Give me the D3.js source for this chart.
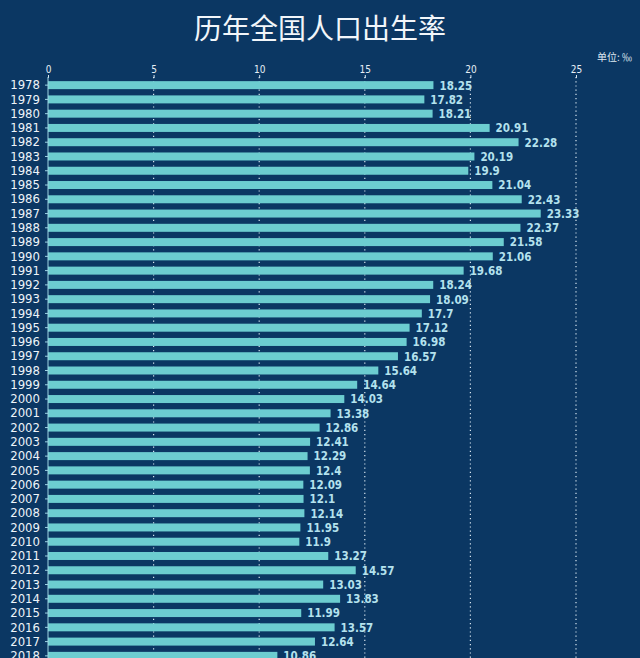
<!DOCTYPE html>
<html>
<head>
<meta charset="utf-8">
<script src="https://cdn.jsdelivr.net/npm/d3@7"></script>
<style>
  html, body { margin: 0; padding: 0; background: #0b3763; overflow: hidden; }
  svg { display: block; }
</style>
</head>
<body>
<svg id="chart"></svg>
<script>
// Data
const years = [1978, 1979, 1980, 1981, 1982, 1983, 1984, 1985, 1986, 1987,
  1988, 1989, 1990, 1991, 1992, 1993, 1994, 1995, 1996, 1997,
  1998, 1999, 2000, 2001, 2002, 2003, 2004, 2005, 2006, 2007,
  2008, 2009, 2010, 2011, 2012, 2013, 2014, 2015, 2016, 2017, 2018];
const birthRates = [18.25, 17.82, 18.21, 20.91, 22.28, 20.19, 19.9, 21.04, 22.43, 23.33,
  22.37, 21.58, 21.06, 19.68, 18.24, 18.09, 17.7, 17.12, 16.98, 16.57,
  15.64, 14.64, 14.03, 13.38, 12.86, 12.41, 12.29, 12.4, 12.09, 12.1,
  12.14, 11.95, 11.9, 13.27, 14.57, 13.03, 13.83, 11.99, 13.57, 12.64, 10.86];
const xTicks = [0, 5, 10, 15, 20, 25];
const title = "历年全国人口出生率";
const unitLabel = "单位: ‰";

const data = years.map((y, i) => ({ year: y, value: birthRates[i] }));

const width = 640, height = 658;
const numFont = "'DejaVu Sans Condensed', 'Liberation Sans Narrow', 'Noto Sans', sans-serif";
const cjkFont = "'Noto Sans CJK SC', sans-serif";

const svg = d3.select("#chart").attr("width", width).attr("height", height);

svg.append("rect").attr("width", width).attr("height", height).attr("fill", "#0b3763");

const x = d3.scaleLinear().domain([0, 25]).range([48, 576]);
const y = d3.scaleBand()
  .domain(years)
  .range([78, 663])
  .paddingInner(0.44)
  .paddingOuter(0.22);

// title
svg.append("text")
  .attr("x", 320).attr("y", 39)
  .attr("text-anchor", "middle")
  .attr("fill", "#f2f6fa")
  .style("font-family", cjkFont)
  .style("font-size", "28px")
  .text(title);

svg.append("text")
  .attr("x", 632).attr("y", 61)
  .attr("text-anchor", "end")
  .attr("fill", "#dfe9f2")
  .style("font-family", cjkFont)
  .style("font-size", "10px")
  .text(unitLabel);

// dotted grid
svg.append("g")
  .selectAll("line")
  .data(xTicks.filter(d => d > 0))
  .join("line")
  .attr("x1", d => x(d)).attr("x2", d => x(d))
  .attr("y1", 77).attr("y2", height)
  .attr("stroke", "#d6e4ee")
  .attr("stroke-width", 1.2)
  .attr("stroke-dasharray", "1.2,3");

// top axis
const xAxis = svg.append("g")
  .attr("transform", "translate(0,78)")
  .call(d3.axisTop(x).tickValues(xTicks).tickSize(3).tickPadding(2));
xAxis.select(".domain").remove();
xAxis.selectAll("line").attr("stroke", "#d6e4ee");
xAxis.selectAll("text")
  .attr("fill", "#e6eef5")
  .style("font-family", numFont)
  .style("font-size", "10px");

// bars
svg.append("g")
  .selectAll("rect")
  .data(data)
  .join("rect")
  .attr("x", x(0))
  .attr("y", d => y(d.year))
  .attr("width", d => x(d.value) - x(0))
  .attr("height", y.bandwidth())
  .attr("fill", "#6ccdd0");

// left axis
const yAxis = svg.append("g")
  .attr("transform", `translate(${x(0)},0)`)
  .call(d3.axisLeft(y).tickSize(3).tickPadding(5));
yAxis.select(".domain").attr("stroke", "#9fd6e4").attr("d", `M0,77V${height}`);
yAxis.selectAll("line").attr("stroke", "#9fd6e4");
yAxis.selectAll("text")
  .attr("fill", "#eef4f9")
  .style("font-family", numFont)
  .style("font-size", "13px");

// value labels
svg.append("g")
  .selectAll("text")
  .data(data)
  .join("text")
  .attr("x", d => x(d.value) + 6)
  .attr("y", d => y(d.year) + y.bandwidth() / 2)
  .attr("dy", "0.38em")
  .attr("fill", "#b4e2ee")
  .style("font-family", numFont)
  .style("font-size", "11.5px")
  .style("font-weight", "bold")
  .text(d => d.value);
</script>
</body>
</html>
